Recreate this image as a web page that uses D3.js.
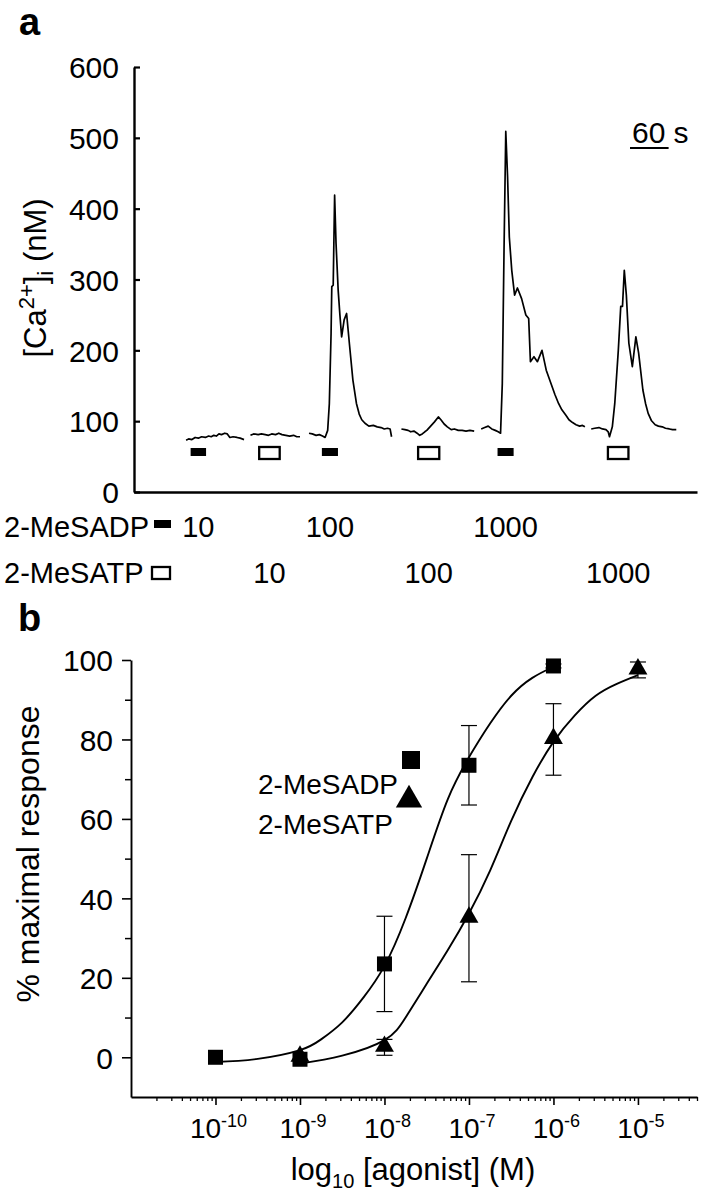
<!DOCTYPE html>
<html><head><meta charset="utf-8">
<script src="https://cdn.jsdelivr.net/npm/d3@7"></script>
<style>
html,body{margin:0;padding:0;background:#fff;}
svg{display:block;}
text{font-family:"Liberation Sans", Arial, Helvetica, sans-serif; fill:#000;}
</style></head><body>
<svg id="c" width="702" height="1199"></svg>
<script>
// ---------------- DATA ----------------
// Panel a: [Ca2+]i trace segments, [time (s), value (nM)]
const traceSeg1 = [[81,73],[85,75],[90,74],[95,77],[100,76],[105,78],[111,77],[116,79],[120,78],[124,80],[128,79],[132,82],[136,81],[141,83],[145,82],[149,77],[154,78],[160,77],[165,76],[171,74]];
const traceSeg2 = [[181,80],[186,82],[193,81],[198,82],[204,81],[209,80],[214,82],[220,81],[225,83],[230,81],[236,80],[242,79],[248,80],[253,78],[258,78]];
const traceSeg3 = [[272,83],[277,82],[283,80],[288,81],[293,79],[297,77],[301,87],[303.6,125],[306.3,224],[307.4,290],[309.6,292],[311.8,419],[314,351],[317.3,285],[320,250],[322.7,219],[326.6,243],[330.4,252],[334.7,210],[340.2,158],[345.7,125],[350,110],[354,102],[359,97],[365,93],[372,94],[378,92],[384,91],[389,89],[394,90],[398,89],[400.3,78]];
const traceSeg4 = [[415.6,89],[421,88],[426,87],[430,85],[435,86],[440,83],[444,80],[448,82],[452,85],[455,87],[460,92],[467,99],[473,106],[477,102],[482,96],[487,92],[493,88],[498,89],[504,87],[510,87],[516,86],[522,87],[528.7,86]];
const traceSeg5 = [[539.6,89],[545,91],[550.5,93],[556,89],[561.5,87],[566,85],[569.7,83],[572.4,153],[575.1,342],[577.8,509],[580.6,445],[583.3,360],[587.1,313],[591.5,278],[595.9,288],[602.4,273],[609,250],[613.4,245],[616.1,184],[621.6,191],[627,184],[634.1,200],[640.7,172],[648.9,151],[654,138],[659.8,125],[665,116],[670.7,109],[676,102],[681.6,98],[687,95],[692.6,93],[697,94],[700.8,92]];
const traceSeg6 = [[710.6,89],[716,90],[722.6,91],[728,89],[733.5,88],[737,85],[739,78],[743.4,92],[747.2,125],[752.7,200],[756.5,262],[759.2,262],[762,313],[765.2,278],[769.1,210],[774.5,177],[780,219],[784.3,196],[790.9,144],[795,125],[799.1,111],[804,101],[810,95],[815,93],[821,92],[826,90],[832,89],[837,88],[842.8,88]];
const traceSegments = [traceSeg1, traceSeg2, traceSeg3, traceSeg4, traceSeg5, traceSeg6];

// Agonist applications (start, end in s) and concentrations (nM)
const adpStim = [[88,112],[292,317],[565,590]];
const atpStim = [[193,228],[440,476],[735,770]];
const adpConc = ["10","100","1000"];
const atpConc = ["10","100","1000"];
const caTicks = [0,100,200,300,400,500,600];
const scaleBarSeconds = 60;

// Panel b: concentration-response
const concs   = [1e-10, 1e-9, 1e-8, 1e-7, 1e-6, 1e-5];
const adpConcs = [1e-10, 1e-9, 1e-8, 1e-7, 1e-6];
const adpMean  = [0, -0.5, 23.5, 73.5, 98.5];
const adpSem   = [0, 0, 12, 10, 0.5];
const atpConcs = [1e-9, 1e-8, 1e-7, 1e-6, 1e-5];
const atpMean  = [0, 2.5, 35, 80, 97.5];
const atpSem   = [0, 2, 16, 9, 2];
// fitted curves: log10 conc, response
const adpFitLog = [-10, -9.5, -9, -8.75, -8.5, -8.25, -8, -7.75, -7.5, -7.25, -7, -6.75, -6.5, -6.25, -6];
const adpFitY   = [-1.2, -0.4, 1.8, 4.5, 8.8, 15, 23, 35, 50, 65, 75.5, 84, 91, 95.5, 98.3];
const atpFitLog = [-9, -8.5, -8, -7.75, -7.5, -7.25, -7, -6.75, -6.5, -6.25, -6, -5.75, -5.5, -5.25, -5];
const atpFitY   = [-1.6, 0.4, 4.3, 10, 18.5, 27, 36.2, 47, 59.5, 70.5, 79.4, 86, 91, 94, 96.2];
const respTicks = [0,20,40,60,80,100];
const respMinor = [10,30,50,70,90];
const decadeExp = ["-10","-9","-8","-7","-6","-5"];

// ---------------- DRAW ----------------
const svg = d3.select("#c");
const FONT = '"Liberation Sans", Arial, Helvetica, sans-serif';

// ===== Panel a =====
const xA = d3.scaleLinear().domain([0, 875]).range([134, 697]);
const yA = d3.scaleLinear().domain([0, 600]).range([492, 67]);

svg.append("text").attr("x", 19).attr("y", 35).attr("font-size", 38).attr("font-weight", "bold").text("a");

const gyA = svg.append("g").attr("transform", `translate(${xA(0)},0)`)
  .call(d3.axisLeft(yA).tickValues(caTicks).tickSizeInner(-6).tickSizeOuter(0).tickPadding(15));
gyA.attr("font-size", 30).attr("font-family", FONT);
gyA.select(".domain").attr("stroke-width", 2.4);
gyA.selectAll(".tick line").attr("stroke-width", 2.2);
gyA.selectAll(".tick text").attr("dy", "0.36em");

const gxA = svg.append("g").attr("transform", `translate(0,${yA(0)})`)
  .call(d3.axisBottom(xA).tickValues([]).tickSizeOuter(0));
gxA.select(".domain").attr("stroke-width", 2.6);

// y label
const yl = svg.append("text").attr("transform", `translate(46,278) rotate(-90)`)
  .attr("text-anchor", "middle").attr("font-size", 31);
yl.append("tspan").text("[Ca");
yl.append("tspan").attr("font-size", 22).attr("dy", -12).text("2+");
yl.append("tspan").attr("dy", 12).text("]");
yl.append("tspan").attr("font-size", 22).attr("dy", 7).text("i");
yl.append("tspan").attr("dy", -7).text(" (nM)");

// trace
const lineA = d3.line().x(d => xA(d[0])).y(d => yA(d[1]));
svg.append("g").selectAll("path").data(traceSegments).join("path")
  .attr("d", lineA).attr("fill", "none").attr("stroke", "#000").attr("stroke-width", 1.7)
  .attr("stroke-linejoin", "round");

// stimulus markers
svg.append("g").selectAll("rect").data(adpStim).join("rect")
  .attr("x", d => xA(d[0])).attr("width", d => xA(d[1]) - xA(d[0]))
  .attr("y", yA(0) - 44).attr("height", 8).attr("fill", "#000");
svg.append("g").selectAll("rect").data(atpStim).join("rect")
  .attr("x", d => xA(d[0]) + 1).attr("width", d => xA(d[1]) - xA(d[0]) - 2)
  .attr("y", yA(0) - 45).attr("height", 12).attr("fill", "#fff")
  .attr("stroke", "#000").attr("stroke-width", 2.3);

// scale bar
const sbX = 630;
const sbW = xA(scaleBarSeconds) - xA(0);
svg.append("text").attr("x", sbX + 2).attr("y", 143).attr("font-size", 30).text("60");
svg.append("line").attr("x1", sbX).attr("x2", sbX + sbW).attr("y1", 148).attr("y2", 148)
  .attr("stroke", "#000").attr("stroke-width", 2);
svg.append("text").attr("x", sbX + sbW + 5).attr("y", 143).attr("font-size", 30).text("s");

// concentration rows
svg.append("text").attr("x", 4).attr("y", 537).attr("font-size", 29).text("2-MeSADP");
svg.append("rect").attr("x", 154).attr("y", 520).attr("width", 17).attr("height", 8).attr("fill", "#000");
svg.append("g").selectAll("text").data(adpStim).join("text")
  .attr("x", d => xA((d[0] + d[1]) / 2)).attr("y", 537).attr("text-anchor", "middle")
  .attr("font-size", 29).text((d, i) => adpConc[i]);

svg.append("text").attr("x", 4).attr("y", 583).attr("font-size", 29).text("2-MeSATP");
svg.append("rect").attr("x", 152).attr("y", 567).attr("width", 18).attr("height", 12)
  .attr("fill", "#fff").attr("stroke", "#000").attr("stroke-width", 2.3);
svg.append("g").selectAll("text").data(atpStim).join("text")
  .attr("x", d => xA((d[0] + d[1]) / 2)).attr("y", 583).attr("text-anchor", "middle")
  .attr("font-size", 29).text((d, i) => atpConc[i]);

// ===== Panel b =====
svg.append("text").attr("x", 18).attr("y", 631).attr("font-size", 38).attr("font-weight", "bold").text("b");

const xB = d3.scaleLog().domain([1e-11, 5e-5]).range([131, 697]);
const yB = d3.scaleLinear().domain([-10, 100]).range([1097, 660]);

const gyB = svg.append("g").attr("transform", `translate(${xB.range()[0]},0)`)
  .call(d3.axisLeft(yB).tickValues(respTicks).tickSizeInner(9).tickSizeOuter(0).tickPadding(9));
gyB.attr("font-size", 30).attr("font-family", FONT);
gyB.select(".domain").attr("stroke-width", 1.9);
gyB.selectAll(".tick line").attr("stroke-width", 1.6);
gyB.selectAll(".tick text").attr("dy", "0.36em");
const gyBm = svg.append("g").attr("transform", `translate(${xB.range()[0]},0)`)
  .call(d3.axisLeft(yB).tickValues(respMinor).tickSizeInner(6).tickSizeOuter(0).tickFormat(""));
gyBm.select(".domain").remove();
gyBm.selectAll(".tick line").attr("stroke-width", 1.5);

// minor x ticks
const minorX = [];
for (let e = -11; e <= -5; e++) for (let k = 2; k <= 9; k++) { const v = k * Math.pow(10, e); if (v <= 5e-5) minorX.push(v); }
const gxB = svg.append("g").attr("transform", `translate(0,${yB(-10)})`)
  .call(d3.axisBottom(xB).tickValues(concs).tickSizeInner(8).tickSizeOuter(0).tickFormat(""));
gxB.select(".domain").attr("stroke-width", 2);
gxB.selectAll(".tick line").attr("stroke-width", 1.6);
const gxBm = svg.append("g").attr("transform", `translate(0,${yB(-10)})`)
  .call(d3.axisBottom(xB).tickValues(minorX).tickSizeInner(4).tickSizeOuter(0).tickFormat(""));
gxBm.select(".domain").remove();
gxBm.selectAll(".tick line").attr("stroke-width", 1.3);

// x tick labels
const xl = svg.append("g").selectAll("text").data(concs).join("text")
  .attr("x", d => xB(d) + 3).attr("y", 1138).attr("text-anchor", "middle").attr("font-size", 28);
xl.append("tspan").text("10");
xl.append("tspan").attr("font-size", 18).attr("dy", -11).text((d, i) => decadeExp[i]);

// x label
const xlab = svg.append("text").attr("x", 413).attr("y", 1180).attr("text-anchor", "middle").attr("font-size", 31);
xlab.append("tspan").text("log");
xlab.append("tspan").attr("font-size", 20).attr("dy", 8).text("10");
xlab.append("tspan").attr("dy", -8).text(" [agonist] (M)");

// y label
svg.append("text").attr("transform", "translate(39,854) rotate(-90)")
  .attr("text-anchor", "middle").attr("font-size", 32).text("% maximal response");

// fitted curves
const fitLine = d3.line().x(d => xB(Math.pow(10, d[0]))).y(d => yB(d[1])).curve(d3.curveNatural);
svg.append("path").datum(adpFitLog.map((v, i) => [v, adpFitY[i]]))
  .attr("d", fitLine).attr("fill", "none").attr("stroke", "#000").attr("stroke-width", 1.9);
svg.append("path").datum(atpFitLog.map((v, i) => [v, atpFitY[i]]))
  .attr("d", fitLine).attr("fill", "none").attr("stroke", "#000").attr("stroke-width", 1.9);

// error bars
function errBars(cs, ms, ss) {
  const g = svg.append("g").attr("stroke", "#000").attr("stroke-width", 1.2);
  cs.forEach((c, i) => {
    if (ss[i] <= 0) return;
    const x = xB(c), y1 = yB(ms[i] + ss[i]), y2 = yB(ms[i] - ss[i]);
    g.append("line").attr("x1", x).attr("x2", x).attr("y1", y1).attr("y2", y2);
    g.append("line").attr("x1", x - 8).attr("x2", x + 8).attr("y1", y1).attr("y2", y1);
    g.append("line").attr("x1", x - 8).attr("x2", x + 8).attr("y1", y2).attr("y2", y2);
  });
}
errBars(adpConcs, adpMean, adpSem);
errBars(atpConcs, atpMean, atpSem);

// markers
const sq = 15;
svg.append("g").selectAll("rect").data(adpConcs).join("rect")
  .attr("x", d => xB(d) - sq / 2).attr("y", (d, i) => yB(adpMean[i]) - sq / 2)
  .attr("width", sq).attr("height", sq).attr("fill", "#000");
const tri = d3.symbol().type(d3.symbolTriangle).size(155);
svg.append("g").selectAll("path").data(atpConcs).join("path")
  .attr("d", tri).attr("transform", (d, i) => `translate(${xB(d)},${yB(atpMean[i]) - 1})`).attr("fill", "#000");

// legend
svg.append("text").attr("x", 258).attr("y", 794).attr("font-size", 28).text("2-MeSADP");
svg.append("text").attr("x", 258).attr("y", 834).attr("font-size", 28).text("2-MeSATP");
svg.append("rect").attr("x", 402).attr("y", 751).attr("width", 18).attr("height", 18).attr("fill", "#000");
svg.append("path").attr("d", d3.symbol().type(d3.symbolTriangle).size(300)).attr("transform", "translate(409,800)").attr("fill", "#000");
</script></body></html>
